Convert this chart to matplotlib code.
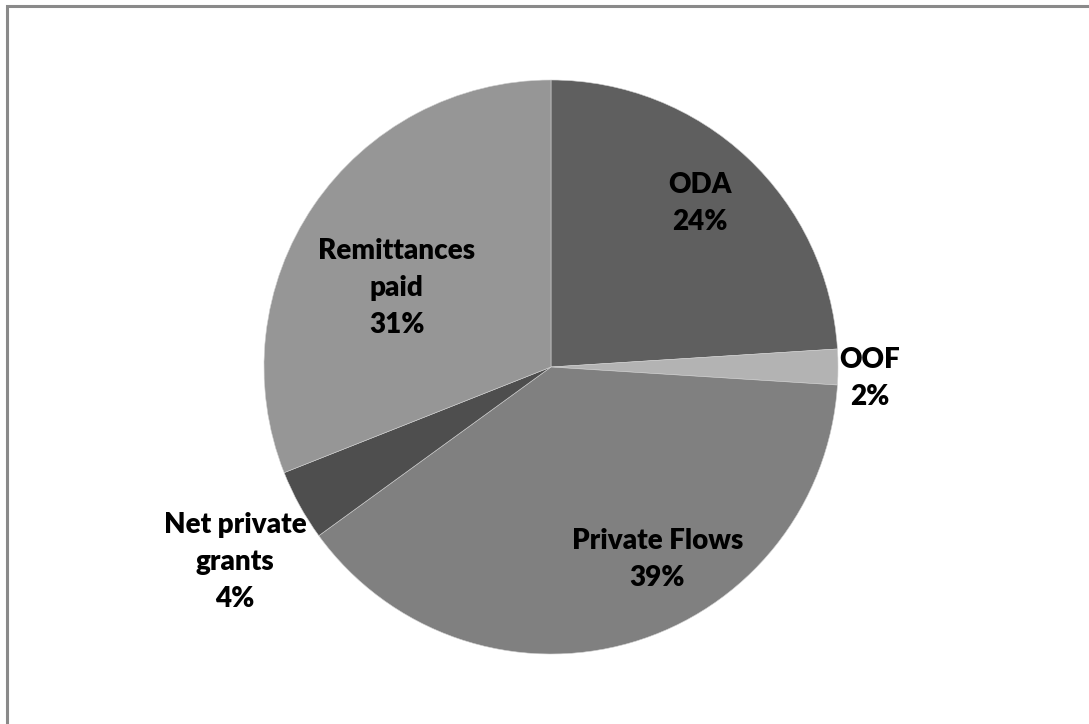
import matplotlib.pyplot as plt
from matplotlib.patches import Rectangle

# flow shares (%), clockwise from 12 o'clock
labels = ["ODA", "OOF", "Private Flows", "Net private\ngrants", "Remittances\npaid"]
shares = [24, 2, 39, 4, 31]
colors = ["#5f5f5f", "#b3b3b3", "#808080", "#4e4e4e", "#969696"]
# label centres in pie units (radius = 1)
label_xy = [(0.519, 0.571), (1.111, -0.040), (0.370, -0.672),
            (-1.101, -0.679), (-0.537, 0.274)]

fig = plt.figure(figsize=(10.89, 7.24), dpi=100)
fig.patches.append(Rectangle((6.5 / 1089, -0.1), 1.2, 1.1 - 6.5 / 724,
                             transform=fig.transFigure, fill=False,
                             edgecolor="#8a8a8a", linewidth=2.2))

ax = fig.add_axes([264 / 1089, 70 / 724, 574 / 1089, 574 / 724])
ax.pie(shares, colors=colors, startangle=90, counterclock=False,
       wedgeprops=dict(edgecolor="#d0d0d0", linewidth=0.4))
ax.set_xlim(-1, 1)
ax.set_ylim(-1, 1)
ax.set_aspect("equal")

for lab, val, (x, y) in zip(labels, shares, label_xy):
    ax.text(x, y, f"{lab}\n{val}%", ha="center", va="center",
            fontsize=20, fontweight="heavy", family=["Lato", "DejaVu Sans"],
            linespacing=1.52, color="black", clip_on=False)

fig.savefig("out.png", dpi=100)
